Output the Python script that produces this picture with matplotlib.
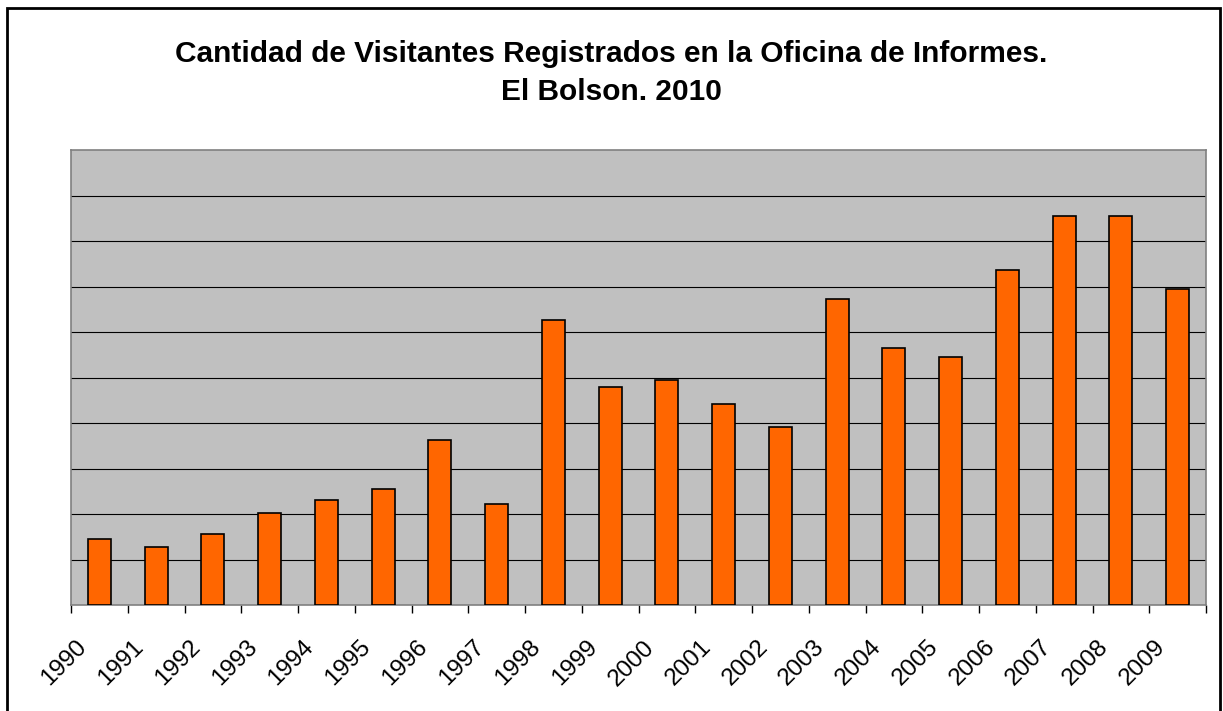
import matplotlib
matplotlib.use("Agg")
from matplotlib import pyplot as plt
from matplotlib.patches import Rectangle
from matplotlib.transforms import ScaledTranslation
import numpy as np

# visitantes registrados (escala en unidades de la grilla x1000)
years = ["1990", "1991", "1992", "1993", "1994", "1995", "1996", "1997", "1998", "1999",
         "2000", "2001", "2002", "2003", "2004", "2005", "2006", "2007", "2008", "2009"]
visitors = [1440, 1280, 1560, 2020, 2310, 2550, 3630, 2220, 6270, 4790,
            4950, 4420, 3920, 6730, 5650, 5450, 7360, 8550, 8550, 6940]

title = "Cantidad de Visitantes Registrados en la Oficina de Informes.\nEl Bolson. 2010"

plt.rcParams['font.family'] = ['Liberation Sans', 'DejaVu Sans']

W, H = 1223, 711
fig = plt.figure(figsize=(W / 100, H / 100), dpi=100)
ax = fig.add_axes([71 / W, (H - 605) / H, (1206 - 71) / W, (605 - 150) / H])

x = np.arange(len(years))
ax.set_facecolor("#C0C0C0")
ax.bar(x, visitors, width=0.405, color="#FF6600", edgecolor="black", linewidth=1.2, zorder=3)

ax.set_xlim(-0.5, len(years) - 0.5)
ax.set_ylim(0, 10000)
ax.set_yticks(np.arange(1000, 10000, 1000))
ax.yaxis.grid(True, color="black", linewidth=0.8, zorder=1)
ax.tick_params(axis="y", length=0, labelleft=False)

# ticks at category boundaries, labels at centres
ax.set_xticks(np.arange(-0.5, len(years), 1.0))
ax.set_xticklabels([])
ax.tick_params(axis="x", which="major", length=6, width=1, color="black", direction="out")
ax.set_xticks(x, minor=True)
ax.set_xticklabels(years, minor=True, rotation=45, ha="right", va="center",
                   rotation_mode="anchor", fontsize=17.5)
ax.tick_params(axis="x", which="minor", length=0, pad=28)
shift = ScaledTranslation(-16 / 100, 0, fig.dpi_scale_trans)
for lab in ax.get_xticklabels(minor=True):
    lab.set_transform(lab.get_transform() + shift)

for s in ax.spines.values():
    s.set_color("#808080")
    s.set_linewidth(1.2)

fig.text(0.5, (H - 73) / H, title, ha="center", va="center", fontsize=21.5,
         fontweight="bold", linespacing=1.49)

fig.patches.append(Rectangle((7 / W, -0.02), (1220 - 7) / W, (H - 8) / H + 0.02,
                             transform=fig.transFigure, fill=False,
                             edgecolor="black", linewidth=2))

fig.savefig("out.png", dpi=100)
